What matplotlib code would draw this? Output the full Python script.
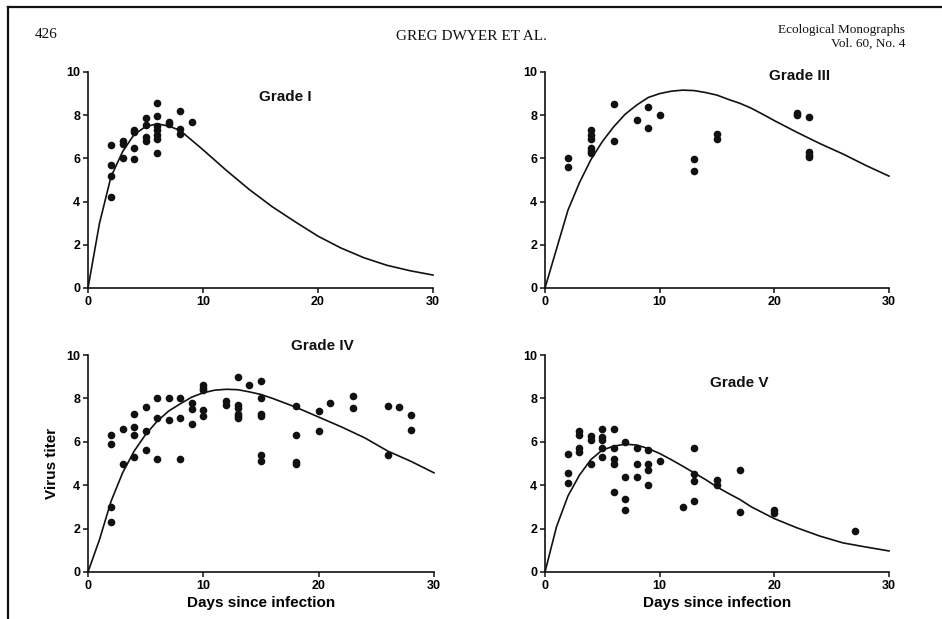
import matplotlib
matplotlib.use("Agg")
import matplotlib.pyplot as plt
from matplotlib.lines import Line2D

plt.rcParams['font.family'] = ['Liberation Sans', 'DejaVu Sans']

# ---------------- data ----------------
# Grade I observations
g1_days = [2, 2, 2, 2, 3, 3, 3, 4, 4, 4, 4, 5, 5, 5, 5,
           6, 6, 6, 6, 6, 6, 6, 7, 7, 8, 8, 8, 9]
g1_titer = [6.6, 5.7, 5.2, 4.2, 6.8, 6.65, 6.0, 7.3, 7.2, 6.5, 5.95, 7.85, 7.55, 7.0, 6.8,
            8.55, 7.95, 7.5, 7.3, 7.1, 6.9, 6.25, 7.7, 7.6, 8.2, 7.35, 7.15, 7.7]
g1_curve_days = [0, 1, 2, 3, 4, 5, 6, 7, 8, 9, 10, 12, 14, 16, 18, 20, 22, 24, 26, 28, 30]
g1_curve = [0.0, 3.0, 5.15, 6.3, 7.1, 7.47, 7.6, 7.5, 7.3, 6.85, 6.4, 5.46, 4.57, 3.77,
            3.07, 2.4, 1.85, 1.4, 1.05, 0.8, 0.6]

# Grade III observations
g3_days = [2, 2, 4, 4, 4, 4, 4, 4, 6, 6, 8, 9, 9, 10, 13, 13, 15, 15,
           22, 22, 23, 23, 23, 23]
g3_titer = [6.0, 5.6, 7.3, 7.1, 6.9, 6.5, 6.35, 6.25, 8.5, 6.8, 7.8, 8.4, 7.4, 8.0,
            5.95, 5.4, 7.15, 6.9, 8.1, 8.0, 7.9, 6.3, 6.15, 6.05]
g3_curve_days = [0, 1, 2, 3, 4, 5, 6, 7, 8, 9, 10, 11, 12, 13, 14, 15, 16, 17, 18, 19,
                 20, 22, 24, 26, 28, 30]
g3_curve = [0.0, 1.8, 3.6, 4.87, 5.94, 6.78, 7.47, 8.05, 8.47, 8.82, 9.0, 9.11, 9.16,
            9.14, 9.05, 8.93, 8.73, 8.55, 8.32, 8.04, 7.75, 7.2, 6.68, 6.2, 5.67, 5.18]

# Grade IV observations
g4_days = [2, 2, 2, 2, 3, 3, 4, 4, 4, 4, 5, 5, 5, 6, 6, 6, 7, 7, 8, 8, 8,
           9, 9, 9, 10, 10, 10, 10, 10, 12, 12, 13, 13, 13, 13, 13, 13, 14,
           15, 15, 15, 15, 15, 15, 18, 18, 18, 18, 20, 20, 21, 23, 23, 26, 26,
           27, 28, 28]
g4_titer = [6.3, 5.9, 3.0, 2.3, 6.6, 5.0, 7.3, 6.7, 6.3, 5.3, 7.6, 6.5, 5.6, 8.0, 7.1, 5.2,
            8.0, 7.0, 8.0, 7.1, 5.2, 7.8, 7.5, 6.8, 8.6, 8.5, 8.4, 7.45, 7.2, 7.9, 7.7,
            9.0, 7.7, 7.55, 7.3, 7.2, 7.1, 8.6, 8.8, 8.0, 7.3, 7.2, 5.4, 5.1,
            7.65, 6.3, 5.05, 5.0, 7.4, 6.5, 7.8, 8.1, 7.55, 7.65, 5.4, 7.6, 7.25, 6.55]
g4_curve_days = [0, 1, 2, 3, 4, 5, 6, 7, 8, 9, 10, 11, 12, 13, 14, 15, 16, 18, 20,
                 22, 24, 26, 28, 30]
g4_curve = [0.0, 1.5, 3.26, 4.57, 5.57, 6.34, 6.95, 7.42, 7.75, 8.06, 8.26, 8.38, 8.42,
            8.4, 8.3, 8.18, 8.0, 7.6, 7.14, 6.68, 6.18, 5.57, 5.1, 4.57]

# Grade V observations
g5_days = [2, 2, 2, 3, 3, 3, 3, 4, 4, 4, 5, 5, 5, 5, 5, 6, 6, 6, 6, 6,
           7, 7, 7, 7, 8, 8, 8, 9, 9, 9, 9, 10, 12, 13, 13, 13, 13, 15, 15,
           17, 17, 20, 20, 27]
g5_titer = [5.45, 4.55, 4.1, 6.5, 6.3, 5.7, 5.55, 6.25, 6.1, 5.0, 6.6, 6.2, 6.1, 5.7, 5.3,
            6.6, 5.7, 5.2, 5.0, 3.7, 6.0, 4.4, 3.35, 2.85, 5.7, 5.0, 4.4, 5.6, 5.0, 4.7, 4.0,
            5.1, 3.0, 5.7, 4.5, 4.2, 3.25, 4.25, 4.0, 4.7, 2.75, 2.85, 2.7, 1.9]
g5_curve_days = [0, 1, 2, 3, 4, 5, 6, 7, 8, 9, 10, 11, 12, 13, 14, 15, 16, 17, 18,
                 20, 22, 24, 26, 28, 30]
g5_curve = [0.0, 2.08, 3.5, 4.46, 5.18, 5.62, 5.8, 5.89, 5.85, 5.69, 5.46, 5.18, 4.88,
            4.57, 4.26, 3.92, 3.62, 3.34, 3.0, 2.46, 2.03, 1.65, 1.34, 1.15, 0.97]

x_ticks = [0, 10, 20, 30]
y_ticks = [0, 2, 4, 6, 8, 10]
titles = ["Grade I", "Grade III", "Grade IV", "Grade V"]
x_label = "Days since infection"
y_label = "Virus titer"

# ---------------- figure ----------------
W, H = 942, 619
fig = plt.figure(figsize=(W / 100, H / 100), dpi=100)
ink = '#111111'

def fig_rect(x0, x1, y_top, y_bot):
    return [x0 / W, 1 - y_bot / H, (x1 - x0) / W, (y_bot - y_top) / H]

rects = [fig_rect(88, 433, 72, 288), fig_rect(545, 889, 72, 288),
         fig_rect(88, 434, 355, 572), fig_rect(545, 889, 355, 572)]
panels = [(g1_days, g1_titer, g1_curve_days, g1_curve),
          (g3_days, g3_titer, g3_curve_days, g3_curve),
          (g4_days, g4_titer, g4_curve_days, g4_curve),
          (g5_days, g5_titer, g5_curve_days, g5_curve)]
title_pos = [(17.2, 8.85), (22.2, 9.8), (20.3, 10.4), (16.9, 8.7)]

for i, (rect, (dx, dy, cx, cy)) in enumerate(zip(rects, panels)):
    ax = fig.add_axes(rect)
    ax.set_xlim(0, 30)
    ax.set_ylim(0, 10)
    ax.plot(cx, cy, color=ink, lw=1.2, clip_on=False, zorder=3)
    ax.plot(dx, dy, 'o', color=ink, ms=5.5, mec='none', clip_on=False, zorder=4)
    for s in ['top', 'right']:
        ax.spines[s].set_visible(False)
    for s in ['left', 'bottom']:
        ax.spines[s].set_linewidth(1.2)
        ax.spines[s].set_color(ink)
    ax.set_xticks(x_ticks)
    ax.set_yticks(y_ticks)
    ax.tick_params(direction='out', length=3.5, width=1.1, color=ink,
                   labelsize=9, pad=2)
    for lab in ax.get_xticklabels() + ax.get_yticklabels():
        lab.set_fontweight('bold')
    ax.text(title_pos[i][0], title_pos[i][1], titles[i], ha='center', va='center',
            fontsize=11, fontweight='bold', color=ink, clip_on=False)
    if i >= 2:
        ax.set_xlabel(x_label, fontsize=11, fontweight='bold', labelpad=3)
    if i == 2:
        ax.set_ylabel(y_label, fontsize=11, fontweight='bold', labelpad=5)

# header text
serif = ['Liberation Serif', 'DejaVu Serif']
fig.text(35 / W, 1 - 35 / H, "426", family=serif, fontsize=11, ha='left', va='center', color=ink)
fig.text(471 / W, 1 - 36 / H, "GREG DWYER ET AL.", family=serif, fontsize=11,
         ha='center', va='center', color=ink)
fig.text(905 / W, 1 - 30 / H, "Ecological Monographs", family=serif, fontsize=9.5,
         ha='right', va='center', color=ink)
fig.text(905 / W, 1 - 44 / H, "Vol. 60, No. 4", family=serif, fontsize=9.5,
         ha='right', va='center', color=ink)

# page frame (top and left edges)
fig.add_artist(Line2D([8 / W, 1.0], [1 - 7 / H, 1 - 7 / H], transform=fig.transFigure,
                      color=ink, lw=1.6))
fig.add_artist(Line2D([8 / W, 8 / W], [1 - 7 / H, 0.0], transform=fig.transFigure,
                      color=ink, lw=1.6))

fig.savefig("out.png", dpi=100)
